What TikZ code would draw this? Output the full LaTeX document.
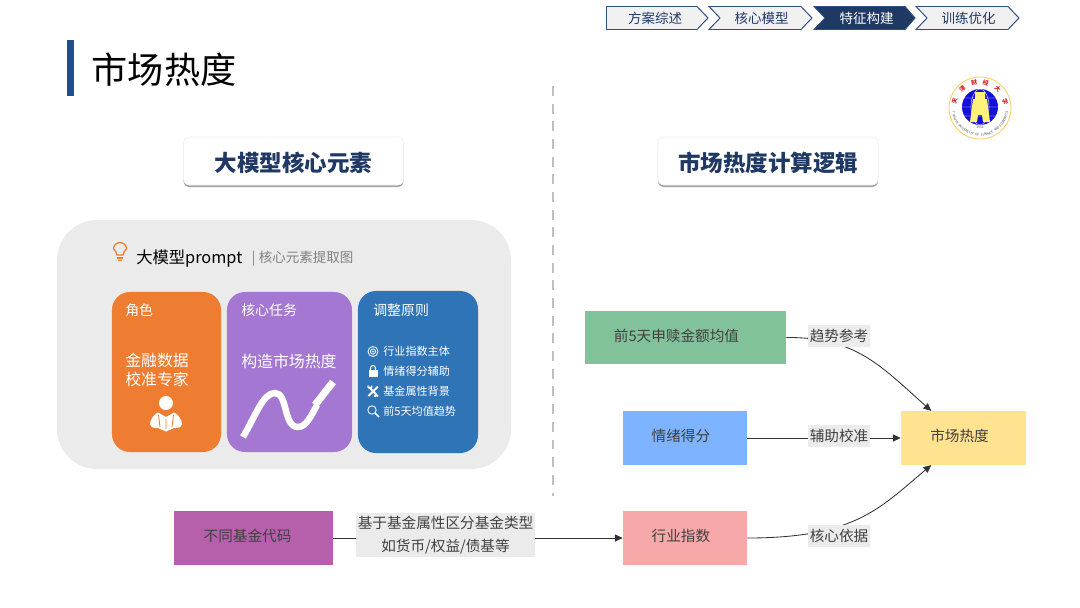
\documentclass[tikz,border=0pt]{standalone}
\usepackage{fontspec}
\setmainfont{Noto Sans CJK SC}
\usepackage{xcolor}
\usepackage{tikz}
\usetikzlibrary{arrows.meta,positioning,calc,shadows}
\definecolor{navyBlue}{HTML}{1F3864}
\definecolor{crumbLine}{HTML}{2F5083}
\definecolor{crumbFill}{HTML}{F1F1F1}
\definecolor{titleBar}{HTML}{1F4E8C}
\definecolor{panelGrey}{HTML}{EBEBEB}
\definecolor{cardOrange}{HTML}{EF7D31}
\definecolor{cardPurple}{HTML}{A477D2}
\definecolor{cardBlue}{HTML}{2E74B7}
\definecolor{boxGreen}{HTML}{82C29A}
\definecolor{boxBlue}{HTML}{7EB3FF}
\definecolor{boxYellow}{HTML}{FFE391}
\definecolor{boxPink}{HTML}{F7A8A8}
\definecolor{boxPurple}{HTML}{B660AC}
\definecolor{edgeGrey}{HTML}{333333}
\definecolor{logoRed}{HTML}{D8232A}
\definecolor{logoBlue}{HTML}{1410D8}
\definecolor{logoYellow}{HTML}{FFF27A}
\tikzset{
  flowbox/.style={rectangle,minimum height=1.34cm,text=black!75,font=\fontsize{10.4}{12}\selectfont,inner sep=0pt,text height=8pt,text depth=3pt},
  edgelab/.style={rectangle,fill=panelGrey,text=black!75,font=\fontsize{10.4}{15.8}\selectfont,align=center,inner xsep=1pt,inner ysep=0pt},
  headcard/.style={rectangle,rounded corners=0.15cm,fill=white,draw=black!6,minimum width=5.5cm,minimum height=1.2cm,
    drop shadow={shadow xshift=0cm,shadow yshift=-0.05cm,fill=black!45,opacity=0.8},
    text=navyBlue,font=\bfseries\fontsize{16}{18}\selectfont,text height=16pt,text depth=1pt},
  conncard/.style={rectangle,rounded corners=0.45cm,minimum height=4cm,inner sep=0pt},
  cardtxt/.style={anchor=west,text=white,inner sep=0pt,align=left},
  flowedge/.style={draw=edgeGrey,line width=0.6pt,-{Triangle[length=5.5pt,width=5pt]}}
}
\begin{document}
\begin{tikzpicture}[x=0.025cm,y=-0.025cm]
\useasboundingbox (0,0) rectangle (1080,607);
% breadcrumb chevrons along the top
\foreach \x/\r/\t/\lab/\bg/\fg in {709/801/812/核心模型/crumbFill/navyBlue, 814/905/915/特征构建/navyBlue/white, 916/1008/1019/训练优化/crumbFill/navyBlue}{
  \filldraw[fill=\bg,draw=crumbLine,line width=0.7pt] (\x,6.5) -- (\r,6.5) -- (\t,18) -- (\r,29.5) -- (\x,29.5) -- (\x+11,18) -- cycle;
  \node[text=\fg,font=\fontsize{9.6}{11}\selectfont,inner sep=0pt] (crumb\x) at (\x+52.5,18){\lab};
}
\filldraw[fill=crumbFill,draw=crumbLine,line width=0.7pt] (606.5,6.5) -- (697,6.5) -- (708,18) -- (697,29.5) -- (606.5,29.5) -- cycle;
\node[text=navyBlue,font=\fontsize{9.6}{11}\selectfont,inner sep=0pt] (crumbone) at (655,18){方案综述};
% page title
\fill[titleBar] (67,40) rectangle (74,96);
\node[anchor=west,inner sep=0pt,font=\fontsize{25.7}{28}\selectfont] (pagetitle) at (91.5,69.5){市场热度};
% school badge
\fill[white] (980,108) circle (31);
\draw[logoYellow!70!orange,line width=0.6pt] (980,108) circle (31);
\fill[logoBlue] (980,107) circle (18);
\draw[white,line width=0.25pt] (962,107) -- (998,107) (980,107) ellipse (9 and 18) (964,98) -- (996,98) (964,116) -- (996,116);
\fill[logoYellow] (975,92) -- (985,92) -- (985,99) -- (987,99) -- (990,122) -- (983,122) -- (982,115) -- (978,115) -- (977,122) -- (970,122) -- (973,99) -- (975,99) -- cycle;
\foreach \ang/\ch in {165/天,133/津,103/财,77/经,47/大,15/学}{
  \node[text=logoRed,font=\bfseries\fontsize{4.2}{5}\selectfont,inner sep=0pt,rotate=\ang-90] (badge\ang) at ($(980,108)+(\ang:26 and -26)$){\ch};
}
\node[text=black!70,font=\fontsize{2.4}{3}\selectfont,inner sep=0pt] (badgeyear) at (980,127.3){1951};
\foreach \i/\ch in {0/T,1/I,2/A,3/N,4/J,5/I,6/N,7/{ },8/U,9/N,10/I,11/V,12/E,13/R,14/S,15/I,16/T,17/Y,18/{ },19/O,20/F,21/{ },22/F,23/I,24/N,25/A,26/N,27/C,28/E,29/{ },30/A,31/N,32/D,33/{ },34/E,35/C,36/O,37/N,38/O,39/M,40/I,41/C,42/S}{
  \pgfmathsetmacro\ang{190+\i*160/42}
  \node[text=black!70,font=\fontsize{2.3}{3}\selectfont,inner sep=0pt,rotate=\ang+90] (badgeen\i) at ($(980,108)+(\ang:27 and -27)$){\ch};
}
% dashed divider
\draw[black!25,line width=2pt,dash pattern=on 7pt off 5.57pt] (553,86) -- (553,496);
% section headings
\node[headcard] (lefthead) at (293.5,161){大模型核心元素};
\node[headcard] (righthead) at (768,161){市场热度计算逻辑};
% grey panel with prompt cards
\fill[panelGrey,rounded corners=1cm] (57,220) rectangle (511,469);
\draw[cardOrange,line width=0.9pt] (117,255) .. controls (116,250) and (113.5,250) .. (113.5,249) .. controls (113.5,240.5) and (126.5,240.5) .. (126.5,249) .. controls (126.5,250) and (124,250) .. (123,255) -- cycle;
\draw[cardOrange,line width=1.2pt] (117,258) -- (123,258) (118,260.5) -- (122,260.5);
\node[anchor=west,inner sep=0pt,font=\fontsize{11.6}{14}\selectfont] (prompthead) at (136,258.5){大模型prompt};
\node[anchor=west,inner sep=0pt,text=black!50,font=\fontsize{9.6}{12}\selectfont] (promptsub) at (251.5,258.5){|\hspace{2.5pt}核心元素提取图};
\node[conncard,fill=cardOrange,minimum width=2.725cm] (rolecard) at (166.5,372){};
\node[conncard,fill=cardPurple,minimum width=3.125cm] (taskcard) at (289.5,372){};
\node[conncard,fill=cardBlue,minimum width=3cm,minimum height=4.05cm] (rulecard) at (418,372){};
\node[cardtxt,font=\fontsize{9.9}{12}\selectfont] (roletitle) at (125,310){角色};
\node[cardtxt,font=\fontsize{11.3}{13.5}\selectfont] (rolename) at (125,369.5){金融数据\\校准专家};
\node[cardtxt,font=\fontsize{9.9}{12}\selectfont] (tasktitle) at (241,310){核心任务};
\node[cardtxt,font=\fontsize{11.3}{13}\selectfont] (taskname) at (241,361){构造市场热度};
\node[cardtxt,font=\fontsize{9.9}{12}\selectfont] (ruletitle) at (373,310){调整原则};
% reader icon
\fill[white] (166,403) circle (7);
\fill[white] (158,412.5) .. controls (154,414) and (150,420) .. (150,424) .. controls (151,428) and (155,428.5) .. (158,428) -- (166,431.5) -- (174,428) .. controls (177,428.5) and (181,428) .. (182,424) .. controls (182,420) and (178,414) .. (174,412.5) -- (166,417) -- cycle;
\draw[cardOrange,line width=0.6pt] (158.5,415) -- (160,427) (173.5,415) -- (172,427) (166,419) -- (166,429);
% rising line
\draw[white,line width=4.6pt] (243,437) .. controls (256,415) and (263,393) .. (275,393) .. controls (288,393) and (283,427) .. (298,427) .. controls (306,427) and (311,416) .. (317,405);
\draw[white,line width=5.2pt] (315,405) -- (333,382);
% rule list with small icons
\foreach \y/\lab in {351/行业指数主体,371/情绪得分辅助,391/基金属性背景,411/前5天均值趋势}{
  \node[cardtxt,font=\fontsize{7.9}{9}\selectfont] (rule\y) at (383,\y){\lab};
}
\draw[white,line width=0.6pt] (373,351.5) circle (5) (373,351.5) circle (2.6);
\fill[white] (373,351.5) circle (1);
\fill[white] (368.5,370) rectangle (377.5,376.5);
\draw[white,line width=0.8pt] (370.5,370) -- (370.5,368) arc[start angle=180,end angle=360,radius=2.5] -- (375.5,370);
\draw[white,line width=1.4pt] (369,387) -- (378,396.5) (378,386.5) -- (368.5,396);
\draw[white,line width=0.9pt] (368,385.5) arc[start angle=200,end angle=-20,radius=2] (375,396) circle (0.4);
\draw[white,line width=0.6pt] (372,410) circle (4.2);
\draw[white,line width=1.1pt] (375,413) -- (379,417);
% flow chart boxes
\node[flowbox,fill=boxGreen,minimum width=5.025cm] (avgamount) at (685.5,337.5){前5天申赎金额均值\hspace*{12.8pt}};
\node[flowbox,fill=boxBlue,minimum width=3.1cm] (sentiment) at (685,438){情绪得分\hspace*{5.7pt}};
\node[flowbox,fill=boxPink,minimum width=3.1cm] (industry) at (685,538){行业指数\hspace*{5.7pt}};
\node[flowbox,fill=boxYellow,minimum width=3.125cm] (heat) at (963.5,438){市场热度\hspace*{5.7pt}};
\node[flowbox,fill=boxPurple,minimum width=3.975cm] (fundcode) at (253.5,538){不同基金代码\hspace*{8.5pt}};
% connectors first, labels sit on top of them
\draw[flowedge] (avgamount.east) .. controls (855,337) and (880,365) .. (heat.140);
\draw[flowedge] (sentiment.east) -- (heat.west);
\draw[flowedge] (industry.east) .. controls (855,538) and (880,508) .. (heat.220);
\draw[flowedge] (fundcode.east) -- (industry.west);
\node[edgelab,minimum width=1.5cm,minimum height=0.55cm] (trendlab) at (839,336){趋势参考};
\node[edgelab,minimum width=1.5cm,minimum height=0.55cm] (assistlab) at (839,436){辅助校准};
\node[edgelab,minimum width=1.5cm,minimum height=0.55cm] (corelab) at (839,536){核心依据};
\node[edgelab,minimum width=4.45cm,minimum height=1.1cm] (typelab) at (445.5,535){基于基金属性区分基金类型\\如货币/权益/债基等};
\end{tikzpicture}
\end{document}
